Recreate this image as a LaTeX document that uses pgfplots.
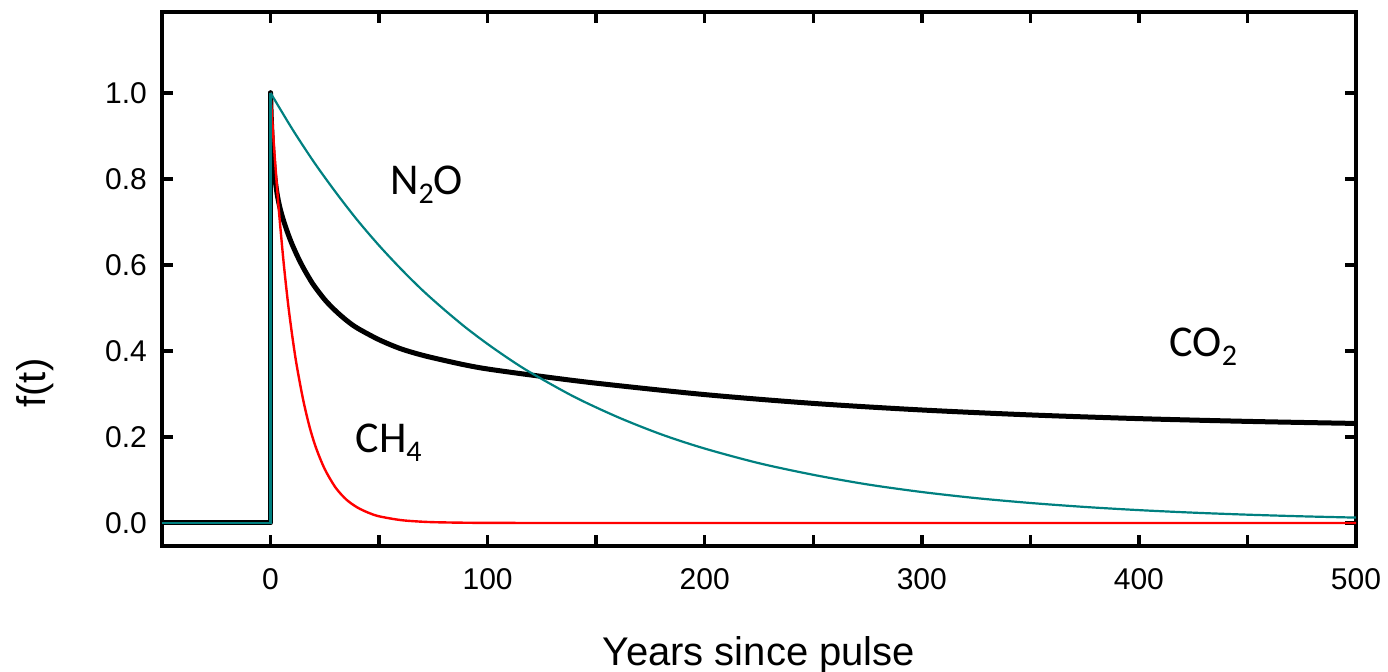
\documentclass[border=0pt]{standalone}
\usepackage{pgfplots}
\pgfplotsset{compat=1.18}
\usepackage{fontspec}
\setmainfont{Liberation Sans}
\newfontfamily\calibri{Carlito}
\definecolor{nteal}{RGB}{0,128,128}
\definecolor{nred}{RGB}{255,0,0}
\newcommand{\sub}[1]{\raisebox{-4.5pt}{\fontsize{15}{18}\selectfont #1}}
\begin{document}
\begin{tikzpicture}
\useasboundingbox (-81pt,-63pt) rectangle (613pt,273pt);
\begin{axis}[
  scale only axis,
  width=597pt, height=267pt,
  xmin=-50, xmax=500,
  ymin=-0.0535, ymax=1.188,
  axis line style={line width=2pt},
  tick style={line width=1.7pt, black},
  major tick length=5.5pt,
  minor tick length=5.5pt,
  tick align=inside,
  xtick={0,100,...,500},
  minor xtick={50,150,...,450},
  ytick={0,0.2,...,1.0},
  ticklabel style={font=\fontsize{15}{18}\selectfont},
  /pgf/number format/assume math mode=true,
  yticklabel style={/pgf/number format/.cd, fixed, fixed zerofill, precision=1, /tikz/.cd, xshift=-4pt},
  xticklabel style={yshift=-7.5pt},
  xticklabels={0,100,200,300,400,500},
  xlabel={Years since pulse},
  ylabel={f(t)},
  label style={font=\fontsize{20}{24}\selectfont},
  xlabel style={at={(rel axis cs:0.5,0)}, anchor=base, yshift=-60pt},
  ylabel style={at={(axis description cs:-0.1064,0.305)}, anchor=center},
  clip=true,
]
% CO2
\addplot[black, line width=2.5pt, line cap=round, line join=round] coordinates {
(-50,0) (0,0) (0,1.000)
};
\addplot[black, line width=2.5pt, line cap=round, smooth] coordinates {
(0,1.000) (0.25,0.955) (0.5,0.92) (1,0.868) (1.5,0.832) (2,0.803) (3,0.766)
(4,0.740) (5,0.720) (6,0.703) (8,0.673) (10,0.647) (12.5,0.619) (15,0.594)
(17.5,0.572) (20,0.552) (25,0.519) (30,0.493) (35,0.471) (40,0.453)
(50,0.426) (60,0.405) (70,0.390) (80,0.378) (90,0.367) (100,0.358)
(120,0.344) (150,0.325) (200,0.2985) (250,0.278) (300,0.2627)
(350,0.2512) (400,0.2426) (450,0.2362) (500,0.2314)
};
% CH4
\addplot[nred, line width=1.2pt] coordinates {
(-50,0) (0,0) (0,1.000)
};
\addplot[nred, line width=1.2pt, smooth] coordinates {
(0,1.000) (1,0.920) (2,0.846) (3,0.779) (4,0.717) (6,0.607)
(8,0.513) (10,0.435) (12,0.368) (15,0.287) (18,0.223) (21,0.174)
(25,0.125) (30,0.082) (35,0.054) (40,0.036) (45,0.024) (50,0.0155)
(60,0.0067) (70,0.0029) (80,0.0013) (100,0.0002) (150,0) (300,0) (500,0)
};
% N2O
\addplot[nteal, line width=1.1pt] coordinates {
(-50,0) (0,0) (0,1.000)
};
\addplot[nteal, line width=1.1pt, smooth] coordinates {
(0,1.000) (10,0.916) (20,0.839) (30,0.769) (40,0.704)
(50,0.645) (60,0.591) (70,0.541) (80,0.496) (90,0.454) (100,0.416)
(110,0.381) (120,0.349) (140,0.293) (160,0.246) (180,0.206) (200,0.173)
(225,0.139) (250,0.112) (275,0.0896) (300,0.0720) (325,0.0578)
(350,0.0465) (375,0.0373) (400,0.0299) (425,0.0240) (450,0.0193)
(475,0.0155) (500,0.0125)
};
\node[anchor=base west, inner sep=0pt, font=\calibri\fontsize{22}{26}\selectfont] at (axis cs:55,0.763) {N\sub{2}O};
\node[anchor=base west, inner sep=0pt, font=\calibri\fontsize{22}{26}\selectfont] at (axis cs:414,0.386) {CO\sub{2}};
\node[anchor=base west, inner sep=0pt, font=\calibri\fontsize{22}{26}\selectfont] at (axis cs:39,0.163) {CH\sub{4}};
\end{axis}
\end{tikzpicture}
\end{document}
